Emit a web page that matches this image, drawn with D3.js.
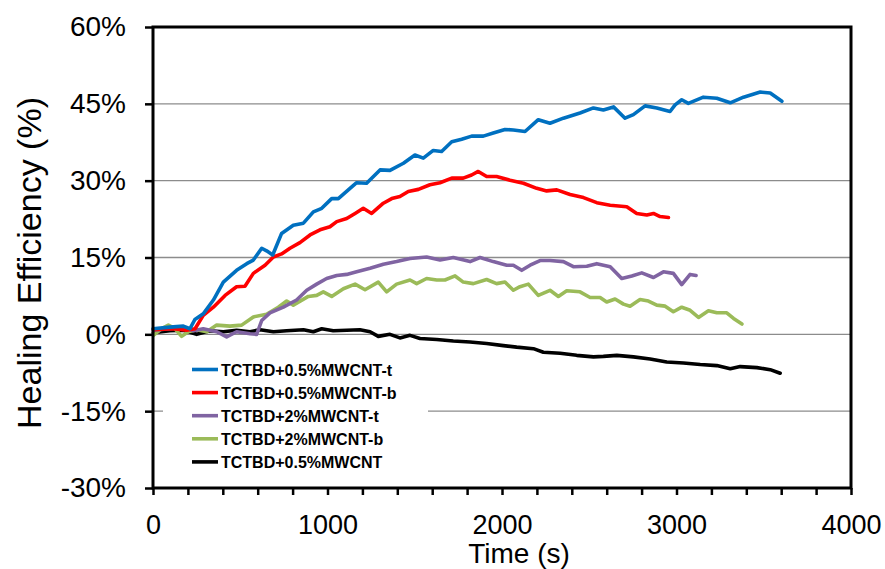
<!DOCTYPE html>
<html>
<head>
<meta charset="utf-8">
<script src="https://cdn.jsdelivr.net/npm/d3@7"></script>
<style>
  html, body { margin: 0; padding: 0; background: #fff; }
  svg { display: block; font-family: "Liberation Sans", Arial, sans-serif; }
</style>
</head>
<body>
<svg id="chart" width="885" height="569"></svg>
<script>
// ---------- data ----------
const seriesNames = ["TCTBD+0.5%MWCNT-t", "TCTBD+0.5%MWCNT-b", "TCTBD+2%MWCNT-t", "TCTBD+2%MWCNT-b", "TCTBD+0.5%MWCNT"];
const seriesColors = ["#0070C0", "#FF0000", "#8064A2", "#9BBB59", "#000000"];

const blueTime = [0, 97, 174, 212, 240, 288, 346, 403, 479, 537, 575, 623, 651, 686, 737, 804, 862, 919, 967, 1024, 1062, 1129, 1167, 1224, 1301, 1358, 1435, 1501, 1549, 1606, 1654, 1712, 1769, 1826, 1893, 1950, 2017, 2065, 2132, 2208, 2275, 2352, 2447, 2524, 2581, 2639, 2705, 2753, 2820, 2887, 2963, 2992, 3030, 3068, 3154, 3231, 3308, 3384, 3480, 3537, 3604];
const blueValue = [1.1, 1.4, 1.6, 1.1, 2.9, 4.0, 6.7, 10.2, 12.5, 13.8, 14.5, 16.8, 16.3, 15.5, 19.7, 21.3, 21.7, 23.9, 24.6, 26.5, 26.5, 28.5, 29.6, 29.5, 32.1, 32.0, 33.4, 35.0, 34.4, 35.9, 35.7, 37.6, 38.1, 38.7, 38.7, 39.3, 40.0, 39.9, 39.6, 41.9, 41.2, 42.2, 43.2, 44.2, 43.8, 44.4, 42.2, 42.9, 44.6, 44.2, 43.5, 44.8, 45.8, 45.1, 46.3, 46.1, 45.2, 46.3, 47.3, 47.1, 45.5];

const redTime = [2, 117, 193, 241, 288, 346, 413, 479, 527, 575, 642, 690, 737, 785, 842, 900, 957, 1014, 1053, 1110, 1158, 1205, 1253, 1320, 1368, 1415, 1463, 1521, 1587, 1645, 1712, 1778, 1826, 1864, 1912, 1969, 2046, 2123, 2199, 2256, 2314, 2390, 2467, 2543, 2620, 2715, 2772, 2830, 2868, 2906, 2954];
const redValue = [0.9, 1.1, 0.8, 1.1, 3.7, 5.3, 7.6, 9.3, 9.4, 11.9, 13.5, 15.1, 15.7, 16.8, 17.9, 19.4, 20.4, 21.0, 22.0, 22.6, 23.6, 24.6, 23.6, 25.6, 26.5, 26.9, 27.9, 28.3, 29.2, 29.6, 30.5, 30.5, 31.1, 31.8, 30.8, 30.8, 30.1, 29.5, 28.5, 28.0, 28.2, 27.3, 26.7, 25.7, 25.2, 24.9, 23.6, 23.3, 23.6, 23.0, 22.8];

const purpleTime = [2, 97, 174, 231, 288, 365, 422, 479, 556, 594, 623, 670, 747, 823, 881, 938, 995, 1053, 1110, 1167, 1244, 1320, 1396, 1473, 1568, 1645, 1721, 1817, 1874, 1950, 2027, 2065, 2113, 2161, 2218, 2275, 2352, 2409, 2486, 2543, 2620, 2686, 2744, 2801, 2868, 2925, 2982, 3030, 3078, 3112];
const purpleValue = [0.8, 1.1, 1.4, 0.7, 1.1, 0.5, -0.5, 0.5, 0.1, 0.0, 2.7, 4.2, 5.3, 6.7, 8.6, 9.8, 10.9, 11.5, 11.7, 12.2, 12.9, 13.7, 14.2, 14.8, 15.1, 14.5, 15.0, 14.2, 15.0, 14.2, 13.5, 13.5, 12.5, 13.5, 14.4, 14.4, 14.2, 13.2, 13.3, 13.8, 13.2, 10.9, 11.4, 12.0, 11.1, 12.2, 11.9, 9.7, 11.7, 11.5];

const greenTime = [2, 50, 88, 126, 164, 202, 250, 308, 365, 441, 508, 575, 651, 718, 766, 804, 890, 938, 976, 1024, 1091, 1158, 1215, 1291, 1339, 1396, 1473, 1511, 1568, 1626, 1673, 1731, 1778, 1836, 1912, 1969, 2017, 2065, 2103, 2151, 2208, 2275, 2323, 2371, 2447, 2505, 2562, 2600, 2648, 2696, 2734, 2791, 2839, 2887, 2935, 2982, 3030, 3078, 3126, 3183, 3231, 3288, 3327, 3375];
const greenValue = [-0.2, 1.1, 1.8, 1.1, -0.4, 0.5, 0.9, 0.5, 1.8, 1.6, 1.8, 3.4, 3.9, 5.3, 6.5, 5.7, 7.4, 7.6, 8.3, 7.4, 8.9, 9.8, 8.7, 10.2, 8.3, 9.8, 10.6, 9.9, 10.9, 10.6, 10.6, 11.4, 10.2, 9.9, 10.7, 9.9, 10.2, 8.6, 9.3, 9.8, 7.6, 8.6, 7.4, 8.5, 8.3, 7.2, 7.2, 6.3, 6.9, 5.9, 5.5, 6.8, 6.5, 5.7, 5.5, 4.4, 5.3, 4.7, 3.3, 4.6, 4.2, 4.2, 3.1, 2.0];

const blackTime = [2, 97, 174, 250, 327, 403, 479, 556, 613, 690, 766, 862, 919, 967, 1033, 1110, 1186, 1244, 1291, 1358, 1415, 1473, 1530, 1626, 1721, 1817, 1912, 2008, 2084, 2180, 2237, 2333, 2428, 2524, 2581, 2658, 2753, 2849, 2944, 3040, 3136, 3231, 3308, 3365, 3461, 3537, 3594];
const blackValue = [0.3, 0.7, 0.8, 0.0, 0.7, 0.5, 0.8, 0.5, 0.9, 0.5, 0.7, 0.9, 0.5, 1.1, 0.7, 0.8, 0.9, 0.5, -0.4, 0.0, -0.7, -0.2, -0.8, -1.0, -1.3, -1.5, -1.8, -2.2, -2.5, -2.8, -3.5, -3.7, -4.1, -4.4, -4.3, -4.1, -4.4, -4.8, -5.4, -5.6, -5.9, -6.1, -6.7, -6.3, -6.5, -6.9, -7.6];

const yTicks = [-30, -15, 0, 15, 30, 45, 60];
const yGrid = [-15, 0, 15, 30, 45];
const xMinorTicks = d3.range(0, 4001, 200);
const xLabels = [0, 1000, 2000, 3000, 4000];

const allTimes = [blueTime, redTime, purpleTime, greenTime, blackTime];
const allValues = [blueValue, redValue, purpleValue, greenValue, blackValue];

// ---------- chart ----------
const svg = d3.select("#chart");
const x = d3.scaleLinear().domain([0, 4000]).range([153, 851]);
const y = d3.scaleLinear().domain([-30, 60]).range([488, 27]);

// gridlines
svg.append("g").selectAll("line").data(yGrid).join("line")
  .attr("x1", x(0)).attr("x2", x(4000))
  .attr("y1", d => y(d)).attr("y2", d => y(d))
  .attr("stroke", "#8c8c8c").attr("stroke-width", 1.4);

// legend background (covers gridline)
svg.append("rect").attr("x", 163).attr("y", 354).attr("width", 265).attr("height", 124).attr("fill", "#fff");

// series lines
const line = d3.line().x(d => x(d[0])).y(d => y(d[1]));
const order = [4, 3, 2, 1, 0];
order.forEach(i => {
  const pts = allTimes[i].map((t, k) => [t, allValues[i][k]]);
  svg.append("path").datum(pts)
    .attr("d", line)
    .attr("fill", "none")
    .attr("stroke", seriesColors[i])
    .attr("stroke-width", 3.6)
    .attr("stroke-linejoin", "round")
    .attr("stroke-linecap", "round");
});

// axes
const yAxis = d3.axisLeft(y).tickValues(yTicks).tickSize(8).tickPadding(19)
  .tickFormat(d => d + "%");
const gy = svg.append("g").attr("transform", `translate(${x(0)},0)`).call(yAxis);
gy.select(".domain").remove();
gy.selectAll(".tick line").attr("stroke", "#000").attr("stroke-width", 2.5);
gy.selectAll(".tick text").attr("font-size", 28).attr("fill", "#000")
  .attr("font-family", "'Liberation Sans', Arial, sans-serif");

const xAxis = d3.axisBottom(x).tickValues(xMinorTicks).tickSize(7).tickPadding(20)
  .tickFormat(d => xLabels.includes(d) ? String(d) : "");
const gx = svg.append("g").attr("transform", `translate(0,${y(-30)})`).call(xAxis);
gx.select(".domain").remove();
gx.selectAll(".tick line").attr("stroke", "#000").attr("stroke-width", 2.5);
gx.selectAll(".tick text").attr("font-size", 27).attr("fill", "#000")
  .attr("font-family", "'Liberation Sans', Arial, sans-serif");

// plot border
svg.append("rect")
  .attr("x", x(0)).attr("y", y(60))
  .attr("width", x(4000) - x(0)).attr("height", y(-30) - y(60))
  .attr("fill", "none").attr("stroke", "#000").attr("stroke-width", 3);

// axis titles
svg.append("text").attr("x", 519).attr("y", 563).attr("text-anchor", "middle")
  .attr("font-size", 28).text("Time (s)");
svg.append("text").attr("transform", "translate(41,263) rotate(-90)")
  .attr("text-anchor", "middle").attr("font-size", 34).text("Healing Efficiency (%)");

// legend
const legend = svg.append("g");
seriesNames.forEach((name, i) => {
  const ly = 369.5 + i * 23.1;
  legend.append("line").attr("x1", 192).attr("x2", 218).attr("y1", ly).attr("y2", ly)
    .attr("stroke", seriesColors[i]).attr("stroke-width", 3.6);
  legend.append("text").attr("x", 221).attr("y", ly + 6)
    .attr("font-size", 16).attr("font-weight", "bold").text(name);
});
</script>
</body>
</html>
